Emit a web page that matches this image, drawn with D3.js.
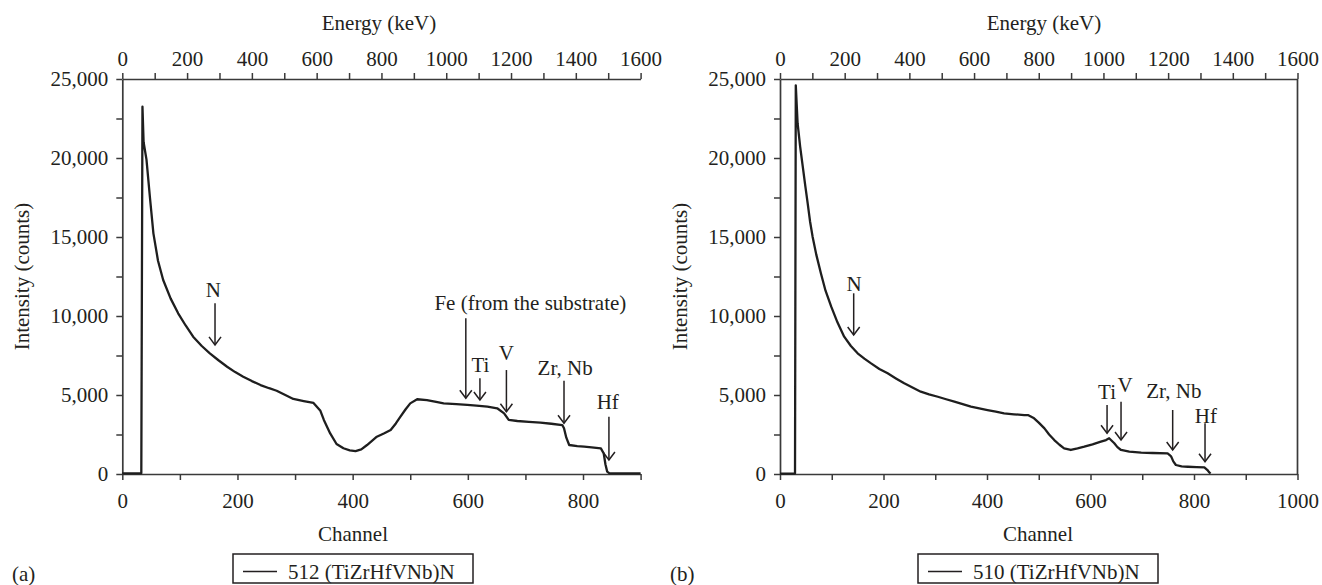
<!DOCTYPE html>
<html>
<head>
<meta charset="utf-8">
<script src="https://cdn.jsdelivr.net/npm/d3@7"></script>
<style>
  body { margin: 0; background: #fff; }
  svg { display: block; }
  text { font-family: "Liberation Serif", "Times New Roman", serif; fill: #231f20; }
</style>
</head>
<body>
<svg id="chart" width="1322" height="585"></svg>
<script>
// ---- tick values ----
const intensityTicks = d3.range(0, 25001, 2500);
const energyTicks = d3.range(0, 1601, 100);
const channelTicksA = d3.range(0, 901, 100);
const channelTicksB = d3.range(0, 1001, 100);

// ---- spectrum (a): 512 (TiZrHfVNb)N, [channel, counts] ----
const spectrumA = [
  [0, 40], [33, 40], [35, 23250], [37, 21000], [42, 19900], [48, 17500], [54, 15230],
  [62, 13500], [71, 12280], [84, 11100], [97, 10170], [110, 9400], [123, 8690],
  [138, 8100], [152, 7640], [167, 7200], [182, 6790], [196, 6450], [210, 6160],
  [225, 5880], [240, 5630], [255, 5430], [268, 5270], [283, 5000], [297, 4750],
  [315, 4620], [332, 4500], [344, 4000], [350, 3420], [361, 2570], [372, 1900],
  [384, 1630], [395, 1500], [405, 1450], [415, 1560], [425, 1835], [442, 2360],
  [455, 2580], [466, 2785], [475, 3200], [483, 3630], [492, 4100], [500, 4470],
  [512, 4730], [529, 4680], [545, 4560], [558, 4470], [580, 4420], [599, 4370],
  [615, 4330], [634, 4260], [651, 4160], [663, 3840], [671, 3420], [686, 3355],
  [706, 3300], [726, 3250], [745, 3180], [764, 3100], [767, 2890], [771, 2300],
  [776, 1835], [790, 1770], [802, 1730], [815, 1680], [831, 1625], [836, 1300],
  [839, 600], [842, 150], [846, 40], [900, 40]
];

// ---- spectrum (b): 510 (TiZrHfVNb)N, [channel, counts] ----
const spectrumB = [
  [0, 30], [29, 30], [30.5, 24600], [34, 22200], [39, 20700], [44, 19450], [49, 18200],
  [53.5, 17130], [58, 16000], [63, 15020], [70, 13900], [79, 12700], [88, 11600],
  [99, 10590], [111, 9600], [124, 8690], [137, 8100], [150, 7640], [163, 7300],
  [176, 7000], [192, 6650], [208, 6370], [224, 6050], [240, 5740], [256, 5470],
  [272, 5210], [288, 5040], [305, 4890], [321, 4730], [337, 4580], [353, 4420],
  [369, 4260], [385, 4150], [401, 4050], [417, 3950], [433, 3840], [452, 3780],
  [472, 3730], [480, 3720], [491, 3525], [500, 3250], [511, 2890], [520, 2500],
  [530, 2150], [540, 1850], [549, 1625], [562, 1520], [575, 1620], [588, 1730],
  [604, 1880], [620, 2045], [630, 2150], [636, 2260], [646, 1945], [652, 1700],
  [659, 1520], [675, 1420], [698, 1350], [720, 1330], [749, 1310], [753, 1200],
  [756, 1100], [760, 800], [765, 570], [776, 480], [788, 460], [805, 440],
  [820, 420], [826, 250], [829, 120], [832, 30]
];

// ---- element markers: arrow at channel ch from counts "top" down to "tip" ----
const markersA = [
  { label: "N", ch: 161, top: 10800, tip: 8170, labelCh: 158, labelCounts: 11200, anchor: "middle" },
  { label: "Fe (from the substrate)", ch: 596.5, top: 9850, tip: 4790, labelCh: 542, labelCounts: 10360, anchor: "start" },
  { label: "Ti", ch: 621, top: 6060, tip: 4680, labelCh: 622, labelCounts: 6456, anchor: "middle" },
  { label: "V", ch: 667, top: 6580, tip: 3940, labelCh: 667, labelCounts: 7234, anchor: "middle" },
  { label: "Zr, Nb", ch: 767, top: 5900, tip: 3210, labelCh: 769, labelCounts: 6247, anchor: "middle" },
  { label: "Hf", ch: 845, top: 3626, tip: 886, labelCh: 843, labelCounts: 4133, anchor: "middle" }
];
const markersB = [
  { label: "N", ch: 142.4, top: 11437, tip: 8797, labelCh: 143, labelCounts: 11582, anchor: "middle" },
  { label: "Ti", ch: 632, top: 4367, tip: 2576, labelCh: 632, labelCounts: 4766, anchor: "middle" },
  { label: "V", ch: 659, top: 4576, tip: 2152, labelCh: 667, labelCounts: 5190, anchor: "middle" },
  { label: "Zr, Nb", ch: 758.8, top: 4051, tip: 1519, labelCh: 761, labelCounts: 4810, anchor: "middle" },
  { label: "Hf", ch: 821.3, top: 3209, tip: 778, labelCh: 823, labelCounts: 3228, anchor: "middle" }
];

const legendA = "512 (TiZrHfVNb)N";
const legendB = "510 (TiZrHfVNb)N";

// ---- drawing ----
const svg = d3.select("#chart");
const INK = "#231f20";
const AXIS = "#3a3a3a";
const FS = 21;
const plotTop = 79, plotBottom = 474;

function drawPanel(opt) {
  const g = svg.append("g");
  const x = d3.scaleLinear().domain([0, opt.channelMax]).range([opt.left, opt.right]);
  const xE = d3.scaleLinear().domain([0, 1600]).range([opt.left, opt.right]);
  const y = d3.scaleLinear().domain([0, 25000]).range([plotBottom, plotTop]);

  const styleAxis = sel => {
    sel.selectAll("path.domain").attr("stroke", AXIS).attr("stroke-width", 1.7);
    sel.selectAll(".tick line").attr("stroke", AXIS).attr("stroke-width", 1.5);
    sel.selectAll(".tick text").style("font-size", FS + "px")
      .style("font-family", '"Liberation Serif", serif').attr("fill", INK);
  };

  // bottom channel axis
  g.append("g").attr("transform", `translate(0,${plotBottom})`)
    .call(d3.axisBottom(x).tickValues(opt.channelTicks).tickSize(6).tickSizeOuter(0).tickPadding(13)
      .tickFormat(d => d % 200 === 0 ? d : ""))
    .call(styleAxis);

  // top energy axis
  g.append("g").attr("transform", `translate(0,${plotTop})`)
    .call(d3.axisTop(xE).tickValues(energyTicks).tickSize(6).tickSizeOuter(0).tickPadding(7)
      .tickFormat(d => d % 200 === 0 ? d : ""))
    .call(styleAxis);

  // left intensity axis
  g.append("g").attr("transform", `translate(${opt.left},0)`)
    .call(d3.axisLeft(y).tickValues(intensityTicks).tickSize(6).tickSizeOuter(0).tickPadding(8)
      .tickFormat(d => d % 5000 === 0 ? d3.format(",")(d) : ""))
    .call(styleAxis);

  if (opt.rightBorder) {
    g.append("line").attr("x1", opt.right).attr("x2", opt.right)
      .attr("y1", plotTop).attr("y2", plotBottom)
      .attr("stroke", AXIS).attr("stroke-width", 1.7);
  }

  // spectrum
  g.append("path").datum(opt.data)
    .attr("fill", "none").attr("stroke", "#1e1e1e").attr("stroke-width", 2.3)
    .attr("stroke-linejoin", "round")
    .attr("d", d3.line().x(d => x(d[0])).y(d => y(d[1])));

  // element markers
  opt.markers.forEach(m => {
    const ax = x(m.ch), y0 = y(m.top), y1 = y(m.tip);
    g.append("line").attr("x1", ax).attr("x2", ax).attr("y1", y0).attr("y2", y1)
      .attr("stroke", INK).attr("stroke-width", 1.5);
    g.append("path")
      .attr("d", `M${ax - 6},${y1 - 8}L${ax},${y1}L${ax + 6},${y1 - 8}`)
      .attr("fill", "none").attr("stroke", INK).attr("stroke-width", 1.5);
    g.append("text").attr("x", x(m.labelCh)).attr("y", y(m.labelCounts))
      .attr("text-anchor", m.anchor).style("font-size", FS + "px").text(m.label);
  });

  // axis titles
  g.append("text").attr("x", opt.energyTitleX).attr("y", 30).attr("text-anchor", "middle")
    .style("font-size", FS + "px").text("Energy (keV)");
  g.append("text").attr("x", opt.channelTitleX).attr("y", 541).attr("text-anchor", "middle")
    .style("font-size", FS + "px").text("Channel");
  g.append("text")
    .attr("transform", `translate(${opt.yTitleX},${(plotTop + plotBottom) / 2}) rotate(-90)`)
    .attr("text-anchor", "middle").style("font-size", FS + "px").text("Intensity (counts)");

  // legend
  const lg = g.append("g").attr("transform", `translate(${opt.legendX},554)`);
  lg.append("rect").attr("width", 240).attr("height", 29)
    .attr("fill", "none").attr("stroke", INK).attr("stroke-width", 1.5);
  lg.append("line").attr("x1", 10).attr("x2", 44).attr("y1", 17.5).attr("y2", 17.5)
    .attr("stroke", INK).attr("stroke-width", 1.5);
  lg.append("text").attr("x", 55).attr("y", 24.5).style("font-size", FS + "px").text(opt.legend);

  // panel letter
  g.append("text").attr("x", opt.letterX).attr("y", 581).style("font-size", FS + "px").text(opt.letter);
}

drawPanel({
  left: 122.3, right: 640.6, channelMax: 900, channelTicks: channelTicksA,
  data: spectrumA, markers: markersA, legend: legendA, legendX: 233,
  energyTitleX: 379, channelTitleX: 353, yTitleX: 29, letter: "(a)", letterX: 12,
  rightBorder: false
});
drawPanel({
  left: 780, right: 1297.5, channelMax: 1000, channelTicks: channelTicksB,
  data: spectrumB, markers: markersB, legend: legendB, legendX: 918,
  energyTitleX: 1044, channelTitleX: 1038, yTitleX: 687, letter: "(b)", letterX: 670,
  rightBorder: true
});
</script>
</body>
</html>
